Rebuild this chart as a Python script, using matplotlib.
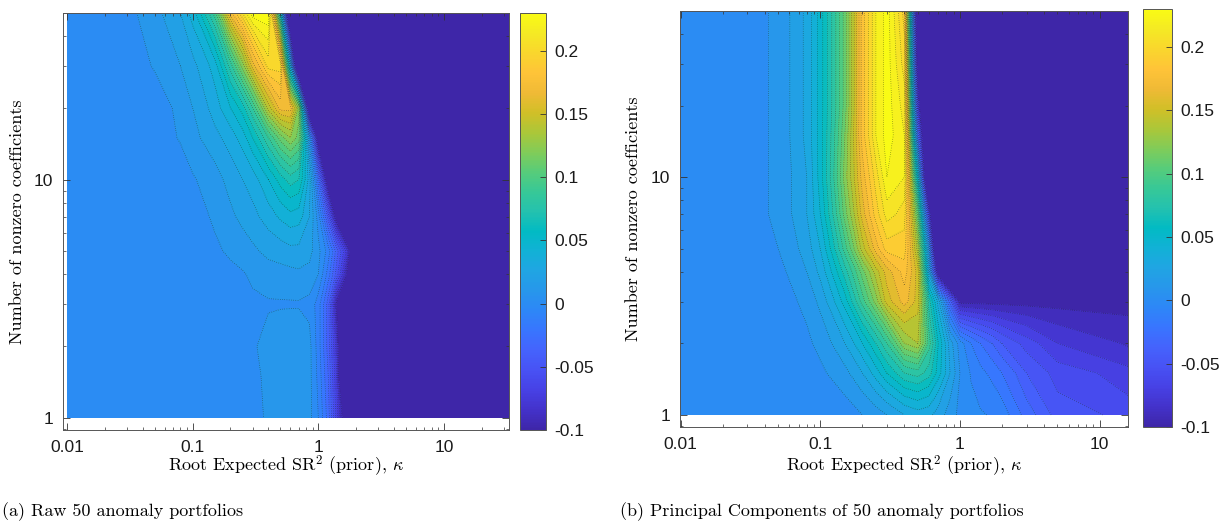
import numpy as np
import matplotlib
import matplotlib.pyplot as plt
from matplotlib.colors import LinearSegmentedColormap, Normalize
from matplotlib.ticker import FixedLocator, NullFormatter, LogLocator

plt.rcParams['font.family'] = 'Liberation Sans'
plt.rcParams['axes.unicode_minus'] = False
plt.rcParams['mathtext.fontset'] = 'cm'

# --- Daten ---
n_coef = [1, 1.5, 2, 3, 4, 5, 7, 10, 15, 20, 30, 50]

kappa_raw = [0.01, 0.03, 0.05, 0.08, 0.1, 0.15, 0.2, 0.25, 0.3, 0.4, 0.5,
             0.6, 0.7, 0.85, 1.0, 1.2, 1.4, 1.7, 2.0, 3.0, 33]
z_raw = [
    [0, 0, 0, 0, 0, 0, 0.001, 0.002, 0.003, 0.006, 0.010, 0.011, 0.011, 0.008, -0.005, -0.03, -0.07, -0.12, -0.2, -0.2, -0.2],
    [0, 0, 0, 0, 0, 0, 0.001, 0.002, 0.003, 0.007, 0.011, 0.012, 0.012, 0.008, -0.008, -0.035, -0.075, -0.2, -0.2, -0.2, -0.2],
    [0, 0, 0, 0, 0, 0, 0.001, 0.002, 0.004, 0.008, 0.011, 0.012, 0.012, 0.008, -0.01, -0.04, -0.08, -0.2, -0.2, -0.2, -0.2],
    [0, 0, 0, 0, 0, 0, 0.001, 0.002, 0.003, 0.004, 0.004, 0.004, 0.004, 0.002, -0.01, -0.04, -0.1, -0.2, -0.2, -0.2, -0.2],
    [0, 0, 0, 0, 0, 0, 0.002, 0.004, 0.007, 0.010, 0.011, 0.012, 0.013, 0.012, 0.005, -0.02, -0.05, -0.1, -0.2, -0.2, -0.2],
    [0, 0, 0, 0, 0, 0.003, 0.007, 0.010, 0.013, 0.018, 0.020, 0.022, 0.022, 0.018, 0.008, -0.01, -0.04, -0.08, -0.15, -0.2, -0.2],
    [0, 0, 0, 0, 0, 0.007, 0.013, 0.018, 0.022, 0.030, 0.037, 0.042, 0.040, 0.025, 0.0, -0.05, -0.11, -0.2, -0.2, -0.2, -0.2],
    [0, 0, 0, 0, 0.004, 0.011, 0.019, 0.025, 0.030, 0.045, 0.060, 0.070, 0.065, 0.030, -0.03, -0.12, -0.2, -0.2, -0.2, -0.2, -0.2],
    [0, 0, 0, 0.006, 0.012, 0.022, 0.030, 0.040, 0.055, 0.085, 0.110, 0.125, 0.110, 0.0, -0.12, -0.2, -0.2, -0.2, -0.2, -0.2, -0.2],
    [0, 0, 0, 0.008, 0.015, 0.030, 0.045, 0.060, 0.085, 0.140, 0.170, 0.170, 0.120, -0.15, -0.2, -0.2, -0.2, -0.2, -0.2, -0.2, -0.2],
    [0, 0, 0.006, 0.015, 0.022, 0.040, 0.080, 0.120, 0.160, 0.200, 0.200, 0.020, -0.2, -0.2, -0.2, -0.2, -0.2, -0.2, -0.2, -0.2, -0.2],
    [0, 0.002, 0.012, 0.025, 0.040, 0.090, 0.170, 0.205, 0.232, 0.235, 0.050, -0.2, -0.2, -0.2, -0.2, -0.2, -0.2, -0.2, -0.2, -0.2, -0.2],
]

kappa_pc = [0.01, 0.03, 0.05, 0.08, 0.1, 0.15, 0.2, 0.25, 0.3, 0.4, 0.5,
            0.6, 0.7, 0.85, 1.0, 1.2, 1.4, 1.7, 2.0, 3.0, 5.0, 16]
z_pc = [
    [0, 0, 0, 0, 0, 0, 0.005, 0.010, 0.015, 0.025, 0.030, 0.028, 0.020, 0.010, 0.002, -0.002, -0.004, -0.006, -0.010, -0.030, -0.050, -0.060],
    [0, 0, 0, 0, 0.003, 0.012, 0.025, 0.040, 0.055, 0.075, 0.080, 0.070, 0.050, 0.025, 0.005, -0.006, -0.012, -0.018, -0.025, -0.045, -0.060, -0.072],
    [0, 0, 0, 0.003, 0.008, 0.025, 0.045, 0.065, 0.085, 0.125, 0.135, 0.090, 0.055, 0.020, 0.0, -0.015, -0.025, -0.035, -0.045, -0.060, -0.075, -0.087],
    [0, 0, 0, 0.008, 0.018, 0.050, 0.090, 0.120, 0.150, 0.170, 0.150, 0.070, 0.030, -0.040, -0.1, -0.1, -0.1, -0.1, -0.1, -0.1, -0.1, -0.1],
    [0, 0, 0.002, 0.015, 0.028, 0.070, 0.110, 0.140, 0.160, 0.180, 0.150, 0.020, -0.120, -0.2, -0.2, -0.2, -0.2, -0.2, -0.2, -0.2, -0.2, -0.2],
    [0, 0, 0.005, 0.020, 0.035, 0.090, 0.140, 0.170, 0.190, 0.190, 0.130, 0.0, -0.2, -0.2, -0.2, -0.2, -0.2, -0.2, -0.2, -0.2, -0.2, -0.2],
    [0, 0, 0.008, 0.025, 0.045, 0.110, 0.160, 0.190, 0.210, 0.200, 0.100, -0.080, -0.2, -0.2, -0.2, -0.2, -0.2, -0.2, -0.2, -0.2, -0.2, -0.2],
    [0, 0, 0.008, 0.025, 0.050, 0.120, 0.170, 0.200, 0.225, 0.215, 0.040, -0.2, -0.2, -0.2, -0.2, -0.2, -0.2, -0.2, -0.2, -0.2, -0.2, -0.2],
    [0, 0, 0.008, 0.028, 0.050, 0.115, 0.180, 0.215, 0.230, 0.215, -0.040, -0.2, -0.2, -0.2, -0.2, -0.2, -0.2, -0.2, -0.2, -0.2, -0.2, -0.2],
    [0, 0, 0.008, 0.028, 0.050, 0.110, 0.180, 0.215, 0.230, 0.210, -0.080, -0.2, -0.2, -0.2, -0.2, -0.2, -0.2, -0.2, -0.2, -0.2, -0.2, -0.2],
    [0, 0, 0.008, 0.028, 0.050, 0.110, 0.180, 0.215, 0.230, 0.200, -0.120, -0.2, -0.2, -0.2, -0.2, -0.2, -0.2, -0.2, -0.2, -0.2, -0.2, -0.2],
    [0, 0, 0.008, 0.028, 0.050, 0.110, 0.180, 0.215, 0.230, 0.190, -0.150, -0.2, -0.2, -0.2, -0.2, -0.2, -0.2, -0.2, -0.2, -0.2, -0.2, -0.2],
]

# MATLAB parula (jeder 3. Eintrag von parula(64))
parula_rgb = [
    (0.2422, 0.1504, 0.6603), (0.2647, 0.1978, 0.7952), (0.2783, 0.2559, 0.8991),
    (0.2810, 0.3228, 0.9579), (0.2699, 0.3892, 0.9906), (0.2206, 0.4603, 0.9973),
    (0.1786, 0.5289, 0.9682), (0.1540, 0.5902, 0.9218), (0.1248, 0.6459, 0.8883),
    (0.0689, 0.6948, 0.8394), (0.0067, 0.7312, 0.7660), (0.1408, 0.7584, 0.6842),
    (0.2161, 0.7843, 0.5923), (0.3406, 0.8008, 0.4789), (0.5044, 0.7993, 0.3480),
    (0.6720, 0.7793, 0.2227), (0.8203, 0.7498, 0.1535), (0.9393, 0.7288, 0.2100),
    (0.9970, 0.7659, 0.2199), (0.9786, 0.8386, 0.1766), (0.9597, 0.9135, 0.1423),
    (0.9769, 0.9839, 0.0805),
]
parula = LinearSegmentedColormap.from_list('parula', parula_rgb, N=256)
levels = np.arange(-0.095, 0.24, 0.01)
cb_ticks = [-0.1, -0.05, 0, 0.05, 0.1, 0.15, 0.2]
cb_labels = ['-0.1', '-0.05', '0', '0.05', '0.1', '0.15', '0.2']

fig = plt.figure(figsize=(12.22, 5.25), dpi=100)

panels = [
    (kappa_raw, z_raw, [0.0516, 0.181, 0.365, 0.794], [0.4255, 0.181, 0.0215, 0.794], (0.0093, 33),
     '(a) Raw 50 anomaly portfolios', 0.002, 0.014),
    (kappa_pc, z_pc, [0.5565, 0.1867, 0.3666, 0.7924], [0.9354, 0.1867, 0.0237, 0.796], (0.0099, 16),
     '(b) Principal Components of 50 anomaly portfolios', 0.507, 0.518),
]

serif = dict(family='cmr10', fontsize=13)

for kap, z, pos, cpos, xlim, caption, cap_x, ylab_x in panels:
    norm = Normalize(vmin=-0.1, vmax=0.23)
    ax = fig.add_axes(pos)
    Z = np.array(z)
    ax.contourf(kap, n_coef, Z, levels=levels, cmap=parula, norm=norm, extend='both')
    ax.contour(kap, n_coef, Z, levels=levels, colors='#222222', linewidths=0.5,
               linestyles=[(0, (0.8, 2.4))], alpha=0.85)
    ax.set_xscale('log')
    ax.set_yscale('log')
    ax.set_xlim(*xlim)
    ax.set_ylim(0.89, 50)

    ax.xaxis.set_major_locator(FixedLocator([0.01, 0.1, 1, 10]))
    ax.set_xticklabels(['0.01', '0.1', '1', '10'])
    ax.xaxis.set_minor_locator(LogLocator(base=10, subs=np.arange(2, 10)))
    ax.xaxis.set_minor_formatter(NullFormatter())
    ax.yaxis.set_major_locator(FixedLocator([1, 10]))
    ax.set_yticklabels(['1', '10'])
    ax.yaxis.set_minor_locator(LogLocator(base=10, subs=np.arange(2, 10)))
    ax.yaxis.set_minor_formatter(NullFormatter())
    ax.tick_params(which='both', direction='in', top=True, right=True,
                   color='#333333', labelsize=12.5, labelcolor='#1a1a1a')
    ax.tick_params(which='major', length=5, width=0.6, pad=7)
    ax.tick_params(which='minor', length=2.5, width=0.5)
    for s in ax.spines.values():
        s.set_color('#555555')
        s.set_linewidth(0.7)

    # Achsenbeschriftungen
    xc = pos[0] + pos[2] / 2
    fig.text(xc, 0.112, r'Root Expected SR$^2$ (prior), $\kappa$', ha='center', va='center', **serif)
    fig.text(ylab_x, pos[1] + pos[3] / 2, 'Number of nonzero coefficients', rotation=90,
             ha='center', va='center', **serif)
    fig.text(cap_x, 0.025, caption, ha='left', va='center', **serif)

    # Farbskala (eigene Norm je Panel)
    cax = fig.add_axes(cpos)
    sm = matplotlib.cm.ScalarMappable(norm=Normalize(vmin=-0.1, vmax=0.23), cmap=parula)
    cb = fig.colorbar(sm, cax=cax)
    cb.set_ticks(cb_ticks, labels=cb_labels)
    cb.ax.tick_params(direction='in', length=4, width=0.6, labelsize=12.5, pad=6,
                      color='#333333', labelcolor='#1a1a1a')
    cb.outline.set_edgecolor('#555555')
    cb.outline.set_linewidth(0.7)

fig.savefig('out.png', dpi=100)
